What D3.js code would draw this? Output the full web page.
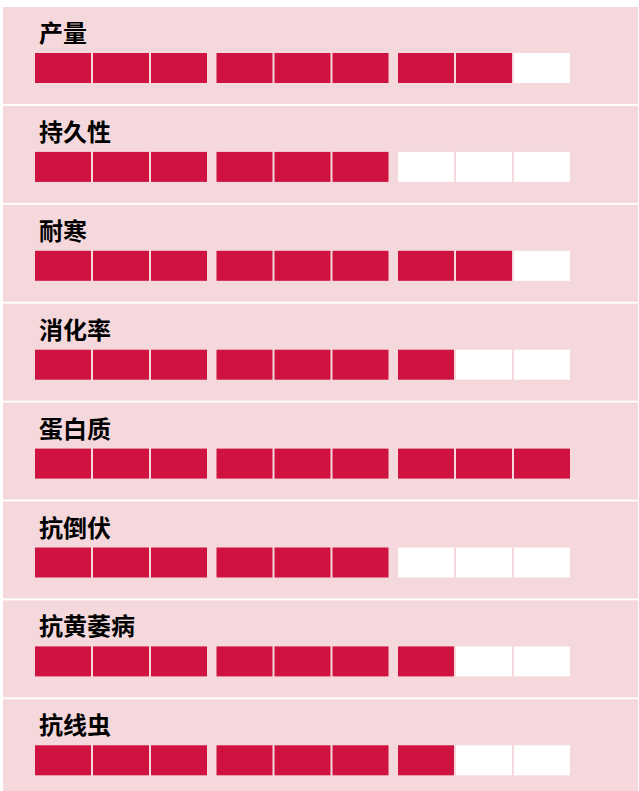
<!DOCTYPE html>
<html>
<head>
<meta charset="utf-8">
<script src="https://cdn.jsdelivr.net/npm/d3@7"></script>
<style>
  body { margin: 0; background: #fff; }
  text { font-family: "Noto Sans CJK SC", sans-serif; font-weight: 700; }
</style>
</head>
<body>
<div id="wrapper"></div>
<script>
const traits = ["产量", "持久性", "耐寒", "消化率", "蛋白质", "抗倒伏", "抗黄萎病", "抗线虫"];
const scores = [8, 6, 8, 7, 9, 6, 7, 7];
const maxScore = 9;

function drawRatings() {
    const width = 639;
    const height = 791;
    let dimensions = {
      width: width,
      height: height,
      margin: { top: 7, right: 1, bottom: 0, left: 3 }
    };
    dimensions.boundedWidth = dimensions.width - dimensions.margin.left - dimensions.margin.right;

    const rowStep = 98.9;
    const rowGap = 2;

    const wrapper = d3.select("#wrapper")
      .append("svg")
        .attr("width", dimensions.width)
        .attr("height", dimensions.height);

    const bounds = wrapper.append("g")
        .attr("transform", `translate(${dimensions.margin.left},${dimensions.margin.top})`);

    // rows
    const yScaler = d3.scaleBand()
        .domain(traits)
        .range([0, rowStep * traits.length - rowGap])
        .paddingInner(rowGap / rowStep)
        .paddingOuter(0);

    // slots, 3 groups of 3
    const slots = d3.range(maxScore);
    const slotScaler = d3.scaleBand()
        .domain(slots)
        .range([32, 32 + 58 * maxScore - 2])
        .paddingInner(2 / 58)
        .paddingOuter(0);
    const groupGap = 7.5;
    const xSlot = i => slotScaler(i) + Math.floor(i / 3) * groupGap;

    const rows = bounds.selectAll(".row")
      .data(traits)
      .join("g")
        .attr("class", "row")
        .attr("transform", d => `translate(0,${yScaler(d)})`);

    rows.append("rect")
        .attr("width", dimensions.boundedWidth)
        .attr("height", yScaler.bandwidth())
        .attr("fill", "#f4d8dc");

    rows.append("text")
        .attr("x", 36)
        .attr("y", 35)
        .attr("font-size", 24)
        .attr("fill", "#000")
        .text(d => d);

    rows.selectAll(".box")
      .data((d, i) => slots.map(s => ({ slot: s, on: s < scores[i] })))
      .join("rect")
        .attr("class", "box")
        .attr("x", d => xSlot(d.slot))
        .attr("y", 46)
        .attr("width", slotScaler.bandwidth())
        .attr("height", 30)
        .attr("fill", d => d.on ? "#cf1240" : "#ffffff");
}

drawRatings();
</script>
</body>
</html>
